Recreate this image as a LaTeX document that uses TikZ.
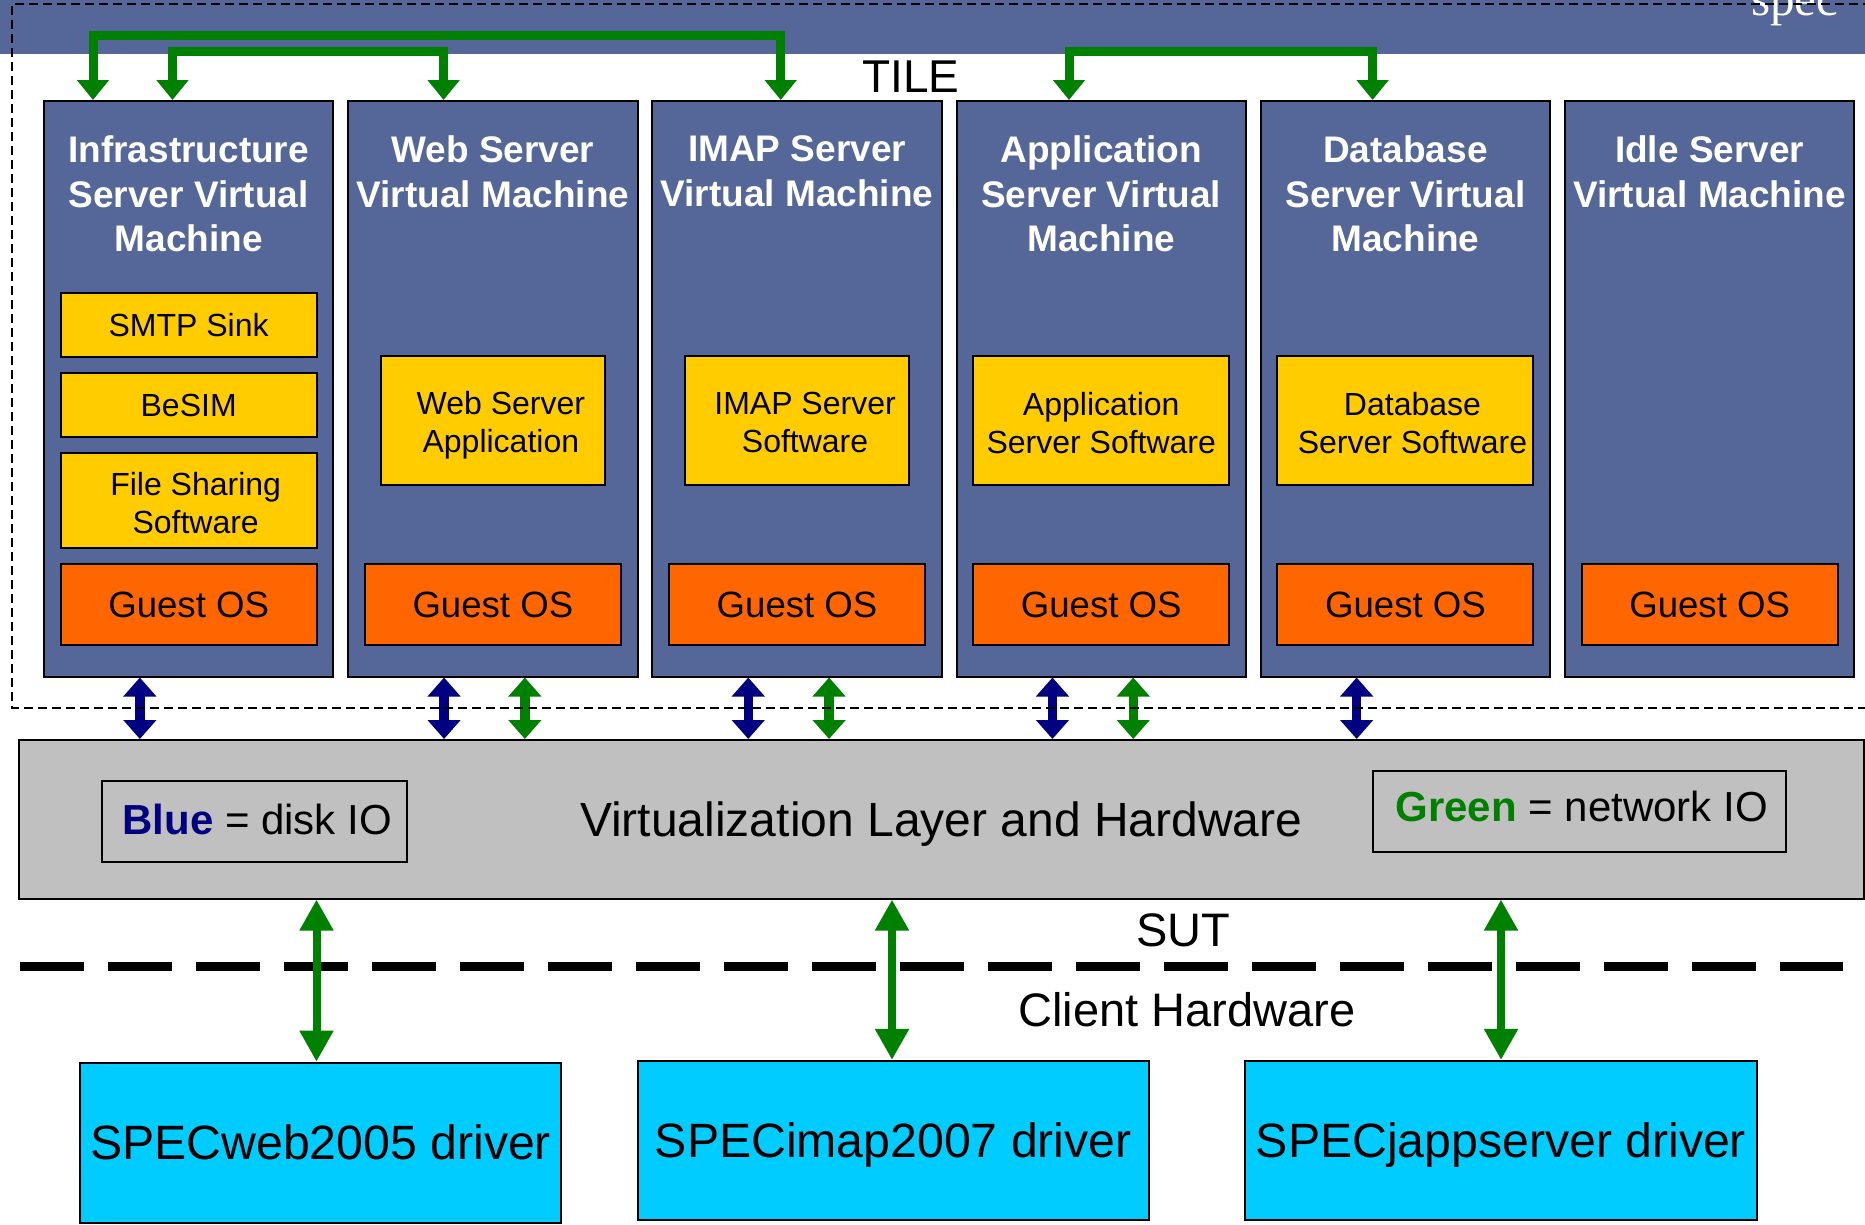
\documentclass[tikz,border=0pt]{standalone}
\usepackage{fontspec}
\setmainfont{Liberation Sans}
\newfontfamily\specserif{Liberation Serif}
\usetikzlibrary{arrows.meta}
\definecolor{vmblue}{RGB}{84,103,152}
\definecolor{swyellow}{RGB}{255,204,0}
\definecolor{osorange}{RGB}{255,102,0}
\definecolor{layergray}{RGB}{192,192,192}
\definecolor{drivercyan}{RGB}{0,204,255}
\definecolor{netgreen}{RGB}{0,128,0}
\definecolor{disknavy}{RGB}{0,0,128}
\newcommand\myfs[2]{\fontsize{#1}{#2}\selectfont}
\begin{document}
\begin{tikzpicture}[x=1pt,y=-1pt,
  vm/.style={draw=black, line width=2pt, fill=vmblue, minimum width=289.3pt, minimum height=575.5pt, inner sep=0pt},
  vmtitle/.style={text=white, font=\myfs{37}{44.6}\bfseries, align=center, inner sep=0pt},
  swbox/.style={draw=black, line width=2pt, fill=swyellow, inner sep=0pt},
  swtext/.style={font=\myfs{32}{38}, align=center, inner sep=0pt},
  osbox/.style={draw=black, line width=2pt, fill=osorange, minimum width=256pt, minimum height=80.7pt, inner sep=0pt, font=\myfs{36.6}{44}},
  legend/.style={draw=black, line width=2pt, fill=layergray, inner sep=0pt, minimum height=81pt},
  legtext/.style={inner sep=0pt, font=\myfs{42}{50}},
  driver/.style={draw=black, line width=2pt, fill=drivercyan, inner sep=0pt, minimum height=159.5pt, minimum width=511.5pt, font=\myfs{48.2}{56}, text height=34.5pt, text depth=0pt},
  biglabel/.style={inner sep=0pt, font=\myfs{47}{56}},
  topnet/.style={draw=netgreen, line width=9pt, line join=miter, {Triangle[length=20pt,width=31pt]}-{Triangle[length=20pt,width=31pt]}},
  vmarrow/.style={line width=9.5pt, {Triangle[length=19pt,width=32pt]}-{Triangle[length=19pt,width=32pt]}},
  drvarrow/.style={draw=netgreen, line width=8pt, {Triangle[length=31pt,width=32pt]}-{Triangle[length=31pt,width=32pt]}},
  tiledash/.style={draw=black, line width=2pt, dash pattern=on 9pt off 5pt},
  sutdash/.style={draw=black, line width=9pt, dash pattern=on 64pt off 24pt}
]
\useasboundingbox (0,0) rectangle (1865,1224);
\clip (0,0) rectangle (1865,1224);
\fill[white] (0,0) rectangle (1865,1224);

% banner
\fill[vmblue] (0,0) rectangle (1865,54);
\node[anchor=base west, inner sep=0pt, text=white, font=\specserif\myfs{49}{56}] (speclogo) at (1751,15) {spec};

% VMs
\node[vm] (vm1) at (188.65,388.75) {};
\node[vm] (vm2) at (492.85,388.75) {};
\node[vm] (vm3) at (797.05,388.75) {};
\node[vm] (vm4) at (1101.25,388.75) {};
\node[vm] (vm5) at (1405.45,388.75) {};
\node[vm] (vm6) at (1709.65,388.75) {};

\node[vmtitle] (t1) at (188.65,193.9) {Infrastructure\\Server Virtual\\Machine};
\node[vmtitle] (t2) at (492.85,171.5) {Web Server\\Virtual Machine};
\node[vmtitle] (t3) at (797.05,171.5) {IMAP Server\\Virtual Machine};
\node[vmtitle] (t4) at (1101.25,193.9) {Application\\Server Virtual\\Machine};
\node[vmtitle] (t5) at (1405.45,193.9) {Database\\Server Virtual\\Machine};
\node[vmtitle] (t6) at (1709.65,171.5) {Idle Server\\Virtual Machine};

% software boxes
\node[swbox, minimum width=256pt, minimum height=64pt] (smtp) at (188.65,324.7) {};
\node[swtext] (smtpt) at (smtp.center) {SMTP Sink};
\node[swbox, minimum width=256pt, minimum height=64pt] (besim) at (188.65,404.7) {};
\node[swtext] (besimt) at ([yshift=-1]besim.center) {BeSIM};
\node[swbox, minimum width=256pt, minimum height=95.6pt] (fshare) at (188.65,500.5) {};
\node[swtext] (fsharet) at ([xshift=7,yshift=-2.4]fshare.center) {File Sharing\\Software};

\node[swbox, minimum width=223.6pt, minimum height=129pt] (websw) at (492.85,420.5) {};
\node[swtext] (webswt) at ([xshift=8,yshift=-4.8]websw.center) {Web Server\\Application};
\node[swbox, minimum width=223.6pt, minimum height=129pt] (imapsw) at (797.05,420.5) {};
\node[swtext] (imapswt) at ([xshift=8,yshift=-2.4]imapsw.center) {IMAP Server\\Software};
\node[swbox, minimum width=256pt, minimum height=129pt] (appsw) at (1101.25,420.5) {};
\node[swtext] (appswt) at ([yshift=-2.4]appsw.center) {Application\\Server Software};
\node[swbox, minimum width=256pt, minimum height=129pt] (dbsw) at (1405.45,420.5) {};
\node[swtext] (dbswt) at ([xshift=7,yshift=-2.4]dbsw.center) {Database\\Server Software};

% guest OS
\node[osbox] (os1) at (188.65,604.65) {Guest OS};
\node[osbox] (os2) at (492.85,604.65) {Guest OS};
\node[osbox] (os3) at (797.05,604.65) {Guest OS};
\node[osbox] (os4) at (1101.25,604.65) {Guest OS};
\node[osbox] (os5) at (1405.45,604.65) {Guest OS};
\node[osbox] (os6) at (1709.65,604.65) {Guest OS};

\node[biglabel, font=\myfs{46}{54}] (tile) at (911,77) {TILE};

% top network arrows
\draw[topnet] ([xshift=-95.65]vm1.north) -- ++(0,-65) -| ([xshift=-16.35]vm3.north);
\draw[topnet] ([xshift=-16.15]vm1.north) -- ++(0,-49) -| ([xshift=-49.25]vm2.north);
\draw[topnet] ([xshift=-32.25]vm4.north) -- ++(0,-49) -| ([xshift=-32.85]vm5.north);

% virtualization layer
\node[draw=black, line width=2pt, fill=layergray, inner sep=0pt, minimum width=1844.5pt, minimum height=158.5pt, font=\myfs{48}{56}, text height=34.4pt, text depth=0pt] (virt) at (941.25,819.25) {Virtualization Layer and Hardware};
\node[legend, minimum width=305.4pt] (bluelegend) at (254.2,821.5) {};
\node[legtext] (bluetext) at ([xshift=3,yshift=2.4]bluelegend.center) {\textcolor{disknavy}{\bfseries Blue} = disk IO};
\node[legend, minimum width=413.5pt] (greenlegend) at (1579.7,811.2) {};
\node[legtext] (greentext) at ([xshift=2,yshift=4.8]greenlegend.center) {\textcolor{netgreen}{\bfseries Green} = network IO};

% VM <-> layer arrows
\draw[vmarrow, draw=disknavy, fill=disknavy] ([xshift=-48.8]vm1.south) -- ([xshift=-48.8]vm1.south |- virt.north);
\draw[vmarrow, draw=disknavy, fill=disknavy] ([xshift=-48.8]vm2.south) -- ([xshift=-48.8]vm2.south |- virt.north);
\draw[vmarrow, draw=disknavy, fill=disknavy] ([xshift=-48.8]vm3.south) -- ([xshift=-48.8]vm3.south |- virt.north);
\draw[vmarrow, draw=disknavy, fill=disknavy] ([xshift=-48.8]vm4.south) -- ([xshift=-48.8]vm4.south |- virt.north);
\draw[vmarrow, draw=disknavy, fill=disknavy] ([xshift=-48.8]vm5.south) -- ([xshift=-48.8]vm5.south |- virt.north);
\draw[vmarrow, draw=netgreen, fill=netgreen] ([xshift=32]vm2.south) -- ([xshift=32]vm2.south |- virt.north);
\draw[vmarrow, draw=netgreen, fill=netgreen] ([xshift=32]vm3.south) -- ([xshift=32]vm3.south |- virt.north);
\draw[vmarrow, draw=netgreen, fill=netgreen] ([xshift=32]vm4.south) -- ([xshift=32]vm4.south |- virt.north);

% tile boundary
\coordinate (tileTR) at (1900,4);
\coordinate (tileTL) at (12,4);
\coordinate (tileBL) at (12,708);
\coordinate (tileBR) at (1900,708);
\draw[tiledash] (tileTR) -- (tileTL) -- (tileBL) -- (tileBR);

% SUT separator
\coordinate (sutL) at (20,966);
\coordinate (sutR) at (1843,966);
\draw[sutdash] (sutL) -- (sutR);
\node[biglabel] (sut) at (1183.5,930) {SUT};
\node[biglabel] (client) at (1187,1010) {Client Hardware};

% drivers
\node[driver, minimum width=480.6pt, minimum height=160pt] (d1) at (320.7,1142.7) {SPECweb2005 driver};
\node[driver] (d2) at (893.3,1140.7) {SPECimap2007 driver};
\node[driver] (d3) at (1501,1140.7) {SPECjappserver driver};

\draw[drvarrow] ([xshift=-4.2]d1.north) -- ([xshift=-4.2]d1.north |- virt.south);
\draw[drvarrow] ([xshift=-1.3]d2.north) -- ([xshift=-1.3]d2.north |- virt.south);
\draw[drvarrow] (d3.north) -- (d3.north |- virt.south);
\end{tikzpicture}
\end{document}
